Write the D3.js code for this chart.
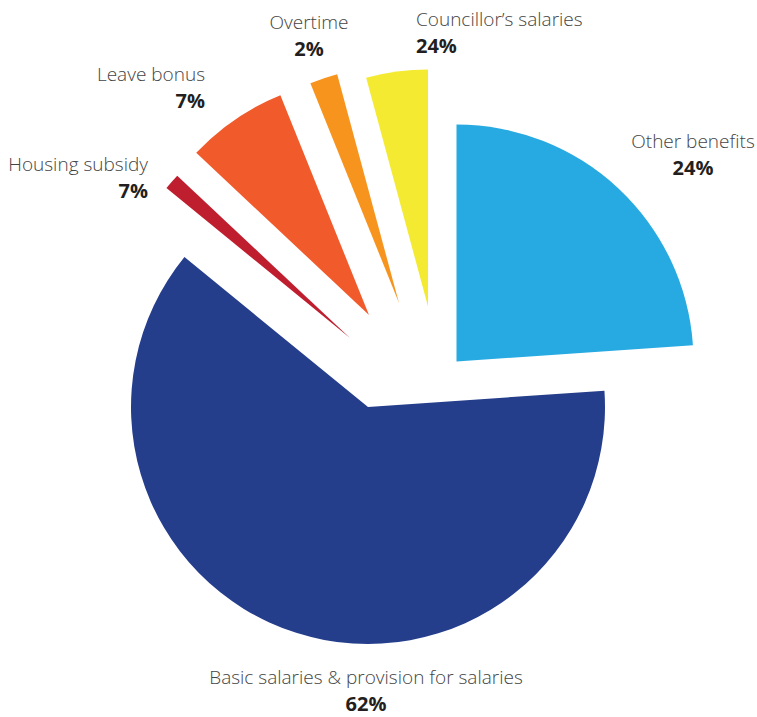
<!DOCTYPE html>
<html>
<head>
<meta charset="utf-8">
<script src="https://cdn.jsdelivr.net/npm/d3@7"></script>
<style>
  html, body { margin: 0; padding: 0; background: #fff; }
  .label { font-family: "Open Sans", "Noto Sans", sans-serif; }
  .name { font-weight: 300; font-size: 19px; fill: #444; }
  .pct { font-weight: 700; font-size: 20px; fill: #231f20; }
</style>
</head>
<body>
<div id="chart"></div>
<script>
(function () {
    // slices, clockwise from 12 o'clock
    const categories = [
        "Other benefits",
        "Basic salaries & provision for salaries",
        "Housing subsidy",
        "Leave bonus",
        "Overtime",
        "Councillor’s salaries"
    ];
    // share of the pie
    const values = [23.9, 62.0, 1.1, 6.9, 1.9, 4.2];
    // percentages as printed on the chart
    const shownLabels = ["24%", "62%", "7%", "7%", "2%", "24%"];
    const colors = ["#27aae1", "#253e8c", "#be1e2d", "#f15a2b", "#f7941d", "#f3ea31"];

    // layout
    const width = 757, height = 717;
    const cx = 368, cy = 407, radius = 237;
    // how far each piece is pulled out of the pie
    const explode = [[88.5, -45.5], [0, 0], [-18, -69], [1, -92], [31, -104], [60, -100.5]];
    // label anchors: [x, y of name baseline, text-anchor]
    const labelPos = [
        [693, 147.5, "middle"],
        [366, 684, "middle"],
        [148, 170.5, "end"],
        [205, 80.5, "end"],
        [309, 28.5, "middle"],
        [416, 25.5, "start"]
    ];
    const lineGap = 27;

    const svg = d3.select("#chart")
        .append("svg")
        .attr("width", width)
        .attr("height", height);

    const pie = d3.pie().sort(null).value(d => d);
    const arc = d3.arc().innerRadius(0).outerRadius(radius);
    const arcs = pie(values);

    svg.append("g")
        .selectAll("path")
        .data(arcs)
        .enter().append("path")
        .attr("transform", (d, i) => `translate(${cx + explode[i][0]},${cy + explode[i][1]})`)
        .attr("d", arc)
        .style("fill", (d, i) => colors[i]);

    // two-line labels: name, then the printed percentage
    const labels = svg.append("g")
        .selectAll("text")
        .data(categories)
        .enter().append("text")
        .attr("class", "label")
        .attr("x", (d, i) => labelPos[i][0])
        .attr("y", (d, i) => labelPos[i][1])
        .attr("text-anchor", (d, i) => labelPos[i][2]);

    labels.append("tspan")
        .attr("class", "name")
        .text(d => d);

    labels.append("tspan")
        .attr("class", "pct")
        .attr("x", (d, i) => labelPos[i][0])
        .attr("dy", lineGap)
        .text((d, i) => shownLabels[i]);
})();
</script>
</body>
</html>
